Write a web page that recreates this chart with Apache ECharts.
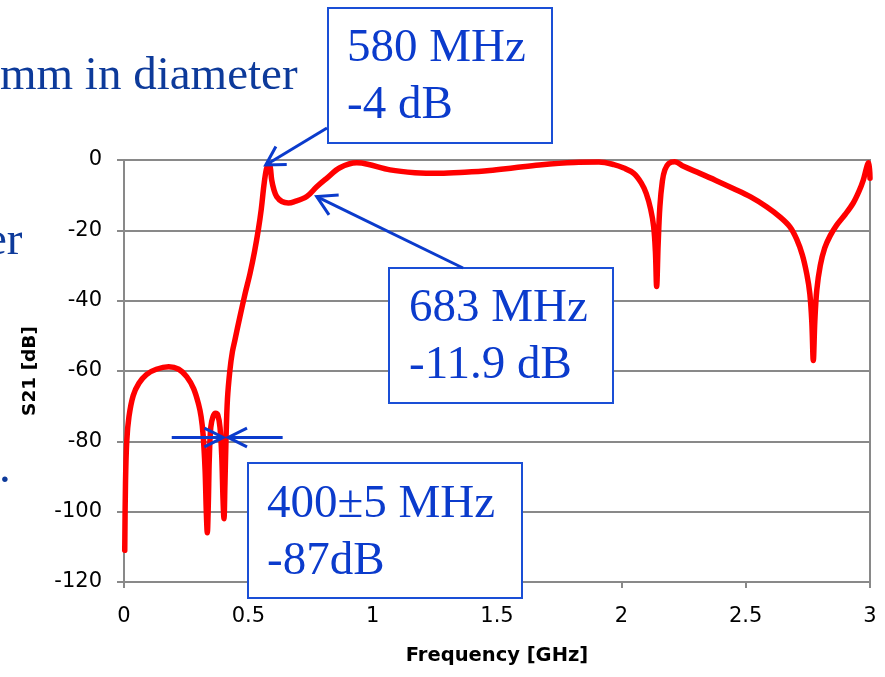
<!DOCTYPE html>
<html>
<head>
<meta charset="utf-8">
<script src="https://cdn.jsdelivr.net/npm/echarts@6/dist/echarts.min.js"></script>
<style>
html, body { margin: 0; padding: 0; background: #fff; }
#chart { width: 885px; height: 677px; }
</style>
</head>
<body>
<div id="chart"></div>
<script>
// S21 curve
const freqGHz = [0.003, 0.006, 0.011, 0.02, 0.037, 0.06, 0.09, 0.13, 0.18, 0.22, 0.252, 0.28, 0.3, 0.31, 0.318, 0.326, 0.331, 0.335, 0.339, 0.343,
  0.349, 0.358, 0.368, 0.377, 0.386, 0.393, 0.398, 0.402, 0.406, 0.41, 0.416, 0.426, 0.436, 0.446, 0.466, 0.487, 0.507, 0.525, 0.54, 0.552,
  0.563, 0.573, 0.582, 0.588, 0.594, 0.603, 0.614, 0.635, 0.661, 0.683, 0.735, 0.775, 0.815, 0.868, 0.936, 0.98, 1.07, 1.17, 1.27, 1.37,
  1.47, 1.57, 1.67, 1.81, 1.91, 1.97, 2.01, 2.05, 2.08, 2.1, 2.118, 2.13, 2.137, 2.142, 2.148, 2.155, 2.165, 2.175, 2.19, 2.215,
  2.25, 2.316, 2.38, 2.45, 2.52, 2.584, 2.64, 2.678, 2.705, 2.728, 2.746, 2.758, 2.766, 2.772, 2.778, 2.786, 2.8, 2.818, 2.84, 2.866,
  2.9, 2.932, 2.955, 2.973, 2.985, 2.993, 2.998, 3.0];
const s21dB = [-111, -92, -80, -73, -67, -63.5, -61, -59.5, -58.8, -59.5, -61.6, -65, -69.5, -73, -78, -88, -100, -106, -98, -85,
  -76, -73, -72, -72.5, -76, -84, -96, -102, -92, -80, -68, -59.7, -54.5, -51.2, -44.6, -38, -32.2, -26, -19.9, -14,
  -7, -2.5, -1.2, -2, -5.7, -8.5, -10.4, -11.8, -12.2, -11.9, -10.4, -7.6, -5.2, -2.2, -0.8, -1.2, -2.8, -3.6, -3.8, -3.5,
  -3, -2.2, -1.4, -0.7, -0.6, -1.3, -2.3, -3.8, -6.5, -9.5, -14, -19, -26, -36, -24, -13.3, -6, -2.8, -1, -0.5,
  -1.8, -3.8, -5.8, -8.1, -10.5, -13.3, -16.3, -19, -22.5, -27, -32.5, -38, -46, -57, -46, -37, -30, -25, -21.5, -18.5,
  -15.5, -12.3, -9, -5.7, -2.5, -0.8, -2.5, -5.2];

// callouts
const noteTexts = ['580 MHz\n-4 dB', '683 MHz\n-11.9 dB', '400\u00b15 MHz\n-87dB'];
const tipFreq = [0.57, 0.775, 0.399, 0.419];
const tipDb = [-1.4, -10.4, -78.9, -78.9];
const tailFreq = [null, null, 0.192, 0.638];

// bits of the slide text around the chart
const slideTexts = ['mm in diameter', 'er', '.'];

const chart = echarts.init(document.getElementById('chart'));
const gray = '#898989';
const blue = '#0b3bcc';

chart.setOption({
  animation: false,
  grid: { left: 124, right: 15, top: 160, bottom: 95, show: true, borderColor: gray, borderWidth: 2 },
  xAxis: {
    type: 'value', min: 0, max: 3, interval: 0.5,
    name: 'Frequency [GHz]', nameLocation: 'middle', nameGap: 64,
    nameTextStyle: { fontFamily: 'DejaVu Sans', fontWeight: 'bold', fontSize: 19.5, color: '#000' },
    axisLine: { onZero: false, lineStyle: { color: gray, width: 2 } },
    axisTick: { show: true, length: 6, lineStyle: { color: gray, width: 2 } },
    axisLabel: { margin: 24, fontFamily: 'DejaVu Sans', fontSize: 21, color: '#000' },
    splitLine: { show: false }
  },
  yAxis: {
    type: 'value', min: -120, max: 0, interval: 20,
    name: 'S21 [dB]', nameLocation: 'middle', nameGap: 84, nameRotate: 90,
    nameTextStyle: { fontFamily: 'DejaVu Sans', fontWeight: 'bold', fontSize: 18.5, color: '#000' },
    axisLine: { show: true, onZero: false, lineStyle: { color: gray, width: 2 } },
    axisTick: { show: true, length: 7, lineStyle: { color: gray, width: 2 } },
    axisLabel: { margin: 22, fontFamily: 'DejaVu Sans', fontSize: 21, color: '#000' },
    splitLine: { lineStyle: { color: gray, width: 2 } }
  },
  series: [{
    type: 'line',
    data: freqGHz.map((f, i) => [f, s21dB[i]]),
    showSymbol: false,
    smooth: 0.35,
    lineStyle: { color: '#ff0000', width: 5.5, cap: 'round', join: 'round' },
    z: 3
  }]
});

function arrow(tail, tip, len, ang) {
  const dx = tail[0] - tip[0], dy = tail[1] - tip[1];
  const d = Math.hypot(dx, dy);
  const ux = dx / d, uy = dy / d;
  const arm = a => [tip[0] + len * (ux * Math.cos(a) - uy * Math.sin(a)),
                    tip[1] + len * (ux * Math.sin(a) + uy * Math.cos(a))];
  return [
    { type: 'line', z: 120, shape: { x1: tail[0], y1: tail[1], x2: tip[0], y2: tip[1] },
      style: { stroke: blue, lineWidth: 3 } },
    { type: 'polyline', z: 120, shape: { points: [arm(ang), tip, arm(-ang)] },
      style: { stroke: blue, lineWidth: 3, fill: null } }
  ];
}

function box(x, y, w, h, text, tx, ty) {
  return [
    { type: 'rect', z: 110, shape: { x: x, y: y, width: w, height: h },
      style: { fill: '#fff', stroke: '#1a4fd6', lineWidth: 2 } },
    { type: 'text', z: 111, x: tx, y: ty,
      style: { text: text, fontFamily: 'Liberation Serif', fontSize: 47, lineHeight: 57, fill: blue,
               verticalAlign: 'top', align: 'left' } }
  ];
}

const tips = tipFreq.map((f, i) => chart.convertToPixel({ gridIndex: 0 }, [f, tipDb[i]]));
const tails = [[327, 128], [463, 268]].concat(
  [2, 3].map(i => chart.convertToPixel({ gridIndex: 0 }, [tailFreq[i], tipDb[i]])));

let elements = [];
elements = elements.concat(box(328, 8, 224, 135, noteTexts[0], 347, 20));
elements = elements.concat(box(389, 268, 224, 135, noteTexts[1], 409, 280));
elements = elements.concat(box(248, 463, 274, 135, noteTexts[2], 267, 476));
elements = elements.concat(arrow(tails[0], tips[0], 21, Math.PI / 6));
elements = elements.concat(arrow(tails[1], tips[1], 22, Math.PI / 6));
elements = elements.concat(arrow(tails[2], tips[2], 21, 0.46));
elements = elements.concat(arrow(tails[3], tips[3], 21, 0.46));

const slideStyle = { fontFamily: 'Liberation Serif', fontSize: 47, fill: '#0d3a9a', verticalAlign: 'top' };
elements.push({ type: 'text', z: 100, x: 0, y: 53, style: Object.assign({ text: slideTexts[0] }, slideStyle) });
elements.push({ type: 'text', z: 100, x: -14, y: 218, style: Object.assign({ text: slideTexts[1] }, slideStyle) });
elements.push({ type: 'text', z: 100, x: -1, y: 446, style: Object.assign({ text: slideTexts[2] }, slideStyle) });

chart.setOption({ graphic: { elements: elements } });
</script>
</body>
</html>
